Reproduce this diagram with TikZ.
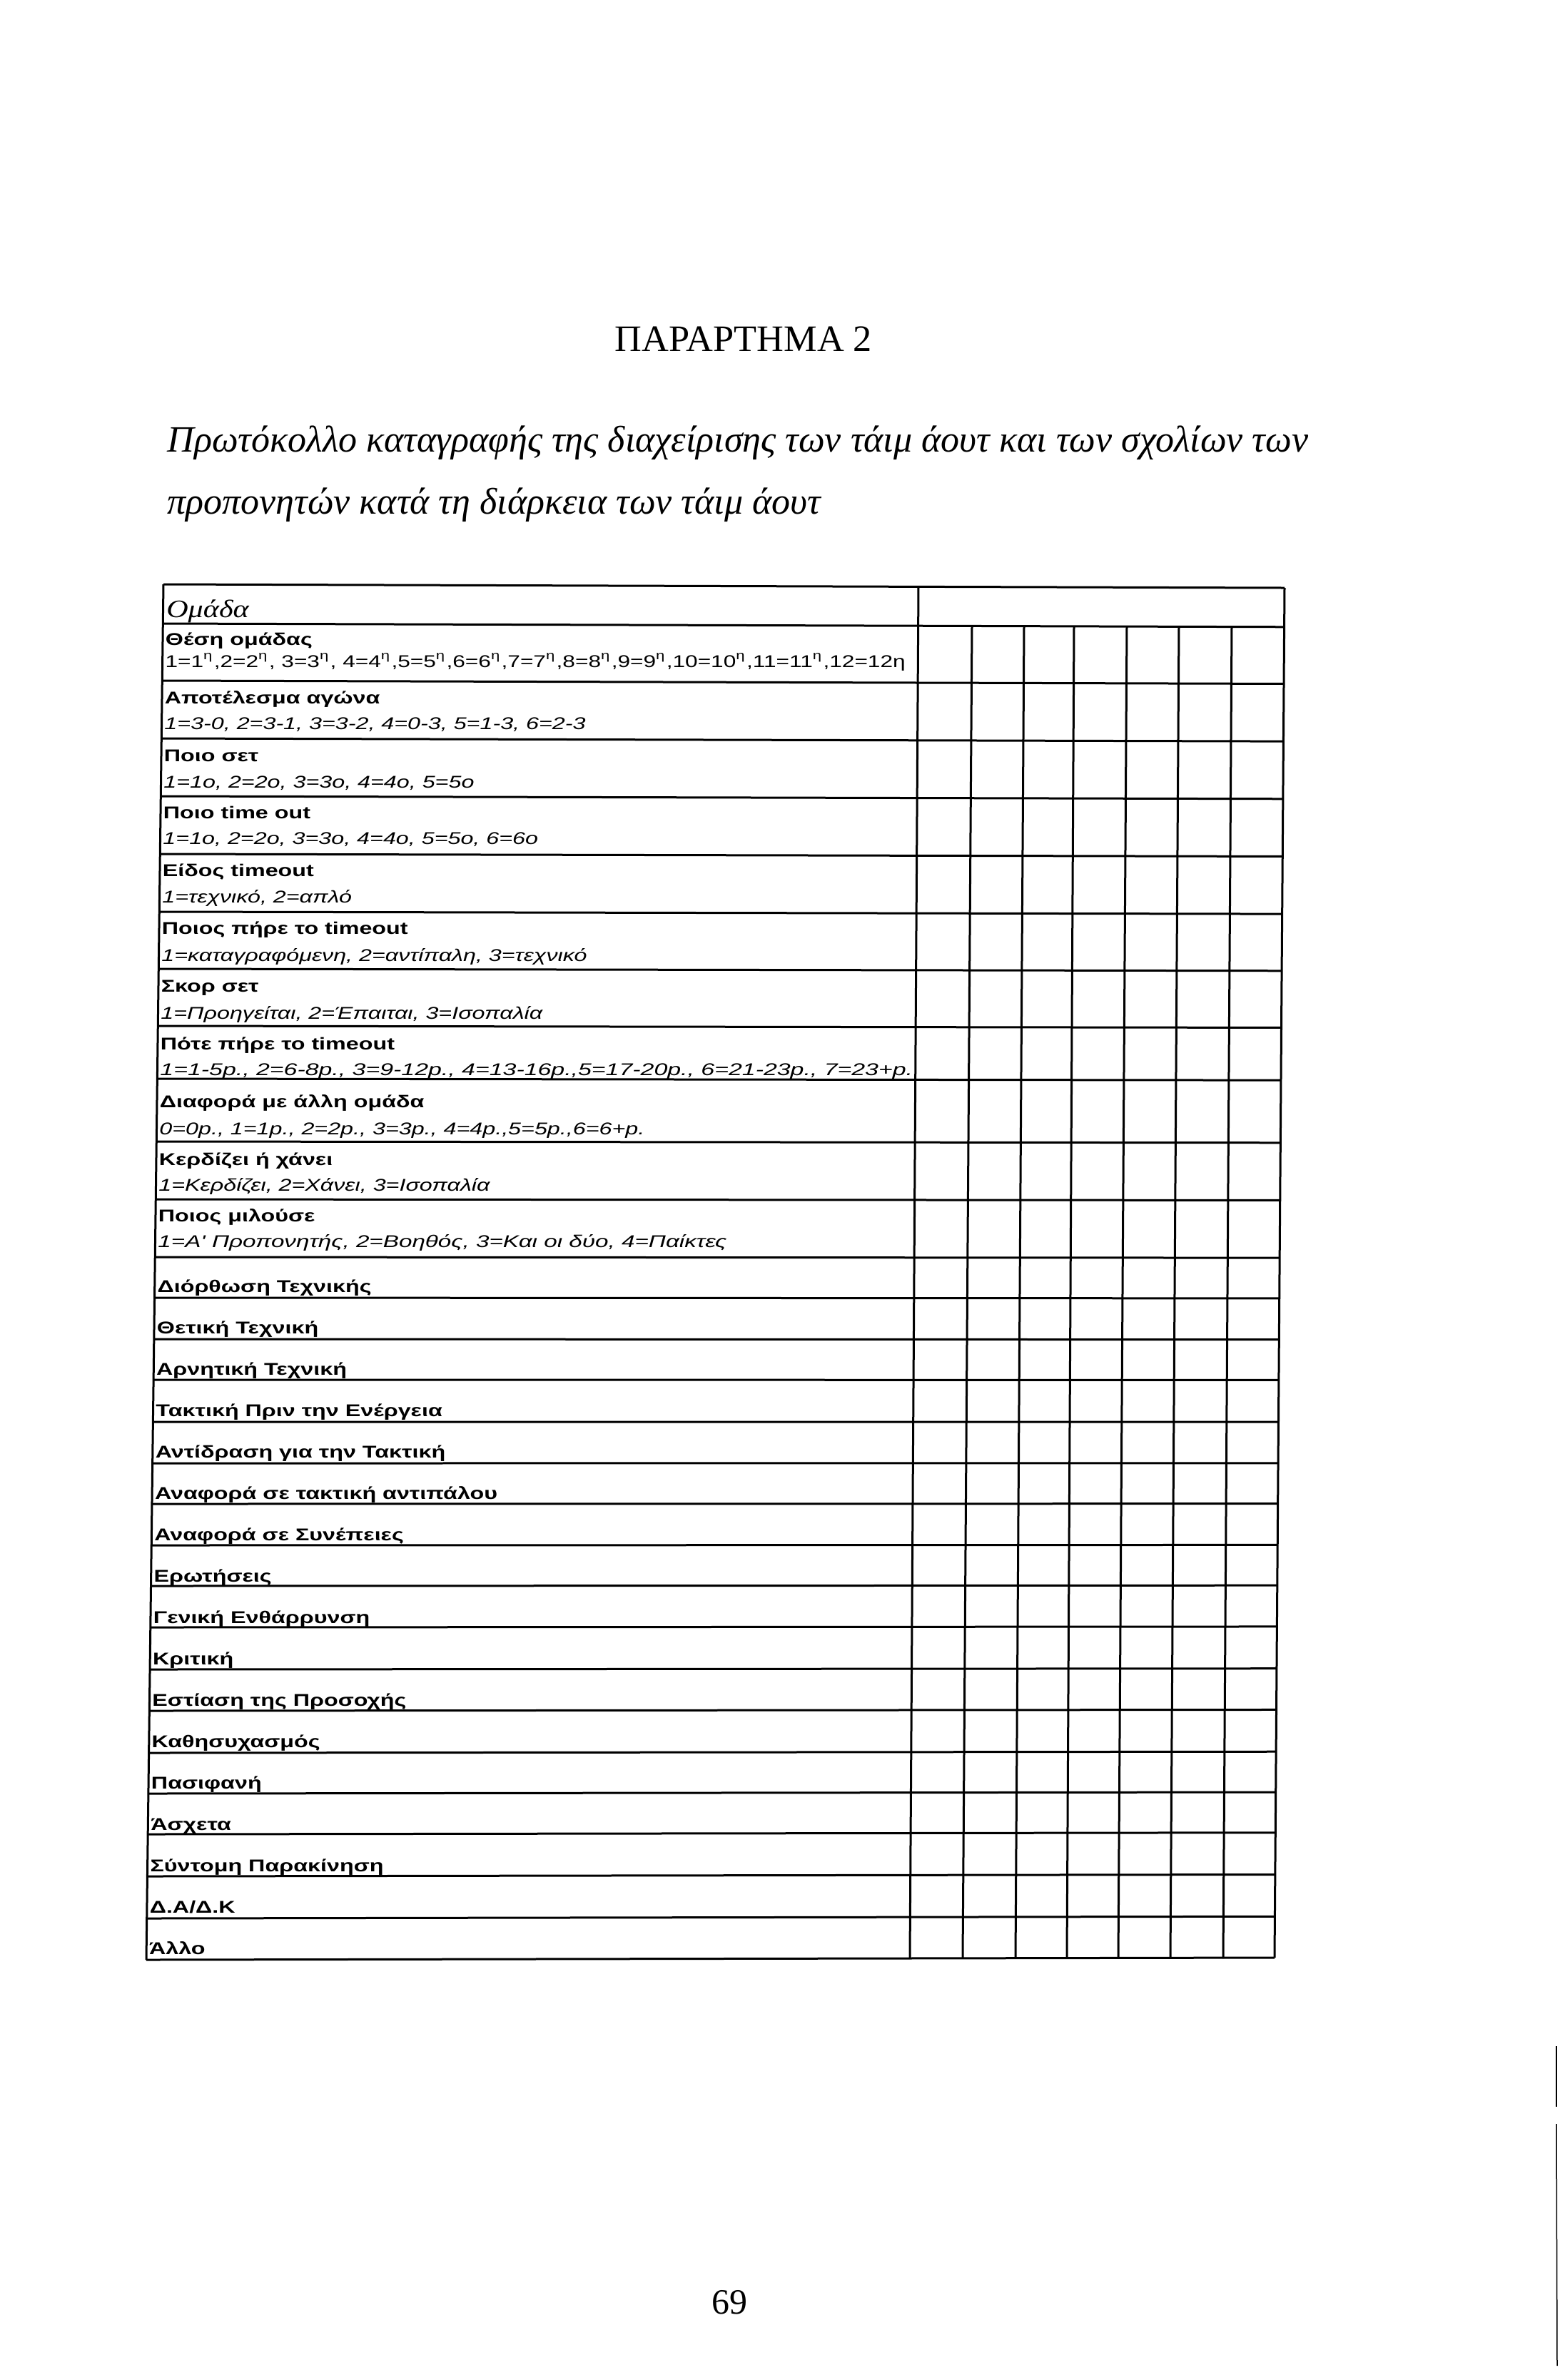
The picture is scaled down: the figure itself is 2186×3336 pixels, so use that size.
\documentclass[tikz,border=0pt]{standalone}
\usepackage{fontspec}
\setmainfont{Liberation Serif}
\newfontfamily\formfont{Liberation Sans}
\usetikzlibrary{calc}
% left edge of the scanned form drifts a little to the left going down
\pgfmathdeclarefunction{edge}{1}{\pgfmathparse{233-0.01245*(#1-819)}}
\newcommand{\ordeta}{\textsuperscript{η}}
\tikzset{
rule/.style={line width=0.3mm},
scanline/.style={line width=0.15mm},
cellhead/.style={anchor=base west,inner sep=0pt,outer sep=0pt,font=\formfont\bfseries\fontsize{6.8}{8}\selectfont,xscale=1.35,transform shape},
cellopt/.style={cellhead,font=\formfont\itshape\fontsize{6.8}{8}\selectfont},
cellplain/.style={cellhead,font=\formfont\fontsize{6.8}{8}\selectfont},
}

\begin{document}
\begin{tikzpicture}[x=0.1mm,y=-0.1mm]
\fill[white] (0,0) rectangle (2186,3336);
\useasboundingbox (0,0) rectangle (2186,3336);

\node[anchor=base,inner sep=0pt,font=\fontsize{14.9}{18}\selectfont] (title) at (1042,492) {ΠΑΡΑΡΤΗΜΑ 2};
\node[anchor=base west,inner sep=0pt,font=\itshape\fontsize{14.8}{18}\selectfont] (sub1) at (234,633)
{Πρωτόκολλο καταγραφής της διαχείρισης των τάιμ άουτ και των σχολίων των};
\node[anchor=base west,inner sep=0pt,font=\itshape\fontsize{14.8}{18}\selectfont] (sub2) at (234,720)
{προπονητών κατά τη διάρκεια των τάιμ άουτ};

% grid of the form
\foreach \y in {819,874,954,1035,1116,1197,1278,1358,1438,1512,1600,1681,1762,
  1819,1877,1934,1993,2051,2108,2166,2223,2281,2340,2398,2457,2514,2571,2630,2689,2747}
  \draw[rule] ({229-0.01245*(\y-819)},\y) -- ({1800-0.00726*(\y-819)},{\y+5-0.00415*(\y-819)});
\draw[rule] (229,819) -- (205,2747);
\draw[rule] (1800,824) -- (1786,2744);
\draw[rule] (1287,822) -- (1275,2745);
\foreach \xt/\xb in {1362/1349,1435/1423,1505/1495,1579/1567,1652/1640,1726/1714}
  \draw[rule] (\xt,878) -- (\xb,2745);

% coded rows
\node[anchor=base west,inner sep=0pt,font=\itshape\fontsize{10}{12}\selectfont,xscale=1.2,transform shape] (team) at ({edge(865)},865) {Ομάδα};

\node[cellhead] (pos) at ({edge(904)},904) {Θέση ομάδας};
\node[cellplain,xscale=0.98] (posv) at ({edge(935)},935)
{1=1\ordeta,2=2\ordeta, 3=3\ordeta, 4=4\ordeta,5=5\ordeta,6=6\ordeta,7=7\ordeta,8=8\ordeta,9=9\ordeta,10=10\ordeta,11=11\ordeta,12=12η};
\node[cellhead] (res) at ({edge(986)},986) {Αποτέλεσμα αγώνα};
\node[cellopt] (resv) at ({edge(1022)},1022) {1=3-0, 2=3-1, 3=3-2, 4=0-3, 5=1-3, 6=2-3};
\node[cellhead] (set) at ({edge(1067)},1067) {Ποιο σετ};
\node[cellopt] (setv) at ({edge(1104)},1104) {1=1ο, 2=2ο, 3=3ο, 4=4ο, 5=5ο};
\node[cellhead] (tout) at ({edge(1147)},1147) {Ποιο time out};
\node[cellopt] (toutv) at ({edge(1183)},1183) {1=1ο, 2=2ο, 3=3ο, 4=4ο, 5=5ο, 6=6ο};
\node[cellhead] (kind) at ({edge(1228)},1228) {Είδος timeout};
\node[cellopt] (kindv) at ({edge(1265)},1265) {1=τεχνικό, 2=απλό};
\node[cellhead] (who) at ({edge(1309)},1309) {Ποιος πήρε το timeout};
\node[cellopt] (whov) at ({edge(1347)},1347) {1=καταγραφόμενη, 2=αντίπαλη, 3=τεχνικό};
\node[cellhead] (score) at ({edge(1390)},1390) {Σκορ σετ};
\node[cellopt] (scorev) at ({edge(1428)},1428) {1=Προηγείται, 2=Έπαιται, 3=Ισοπαλία};
\node[cellhead] (when) at ({edge(1471)},1471) {Πότε πήρε το timeout};
\node[cellopt,xscale=1.05] (whenv) at ({edge(1507)},1507)
{1=1-5p., 2=6-8p., 3=9-12p., 4=13-16p.,5=17-20p., 6=21-23p., 7=23+p.};
\node[cellhead] (diff) at ({edge(1552)},1552) {Διαφορά με άλλη ομάδα};
\node[cellopt] (diffv) at ({edge(1590)},1590) {0=0p., 1=1p., 2=2p., 3=3p., 4=4p.,5=5p.,6=6+p.};
\node[cellhead] (win) at ({edge(1633)},1633) {Κερδίζει ή χάνει};
\node[cellopt] (winv) at ({edge(1669)},1669) {1=Κερδίζει, 2=Χάνει, 3=Ισοπαλία};
\node[cellhead] (talk) at ({edge(1712)},1712) {Ποιος μιλούσε};
\node[cellopt,xscale=1.03] (talkv) at ({edge(1748)},1748) {1=Α' Προπονητής, 2=Βοηθός, 3=Και οι δύο, 4=Παίκτες};

% comment categories
\foreach \t [count=\k] in {Διόρθωση Τεχνικής,Θετική Τεχνική,Αρνητική Τεχνική,Τακτική Πριν την Ενέργεια,
  Αντίδραση για την Τακτική,Αναφορά σε τακτική αντιπάλου,Αναφορά σε Συνέπειες,Ερωτήσεις,
  Γενική Ενθάρρυνση,Κριτική,Εστίαση της Προσοχής,Καθησυχασμός,Πασιφανή,Άσχετα,
  Σύντομη Παρακίνηση,Δ.Α/Δ.Κ,Άλλο}
  \node[cellhead] (item\k) at ({edge(1754+57.94*\k)},{1754+57.94*\k}) {\t};

\node[anchor=base,inner sep=0pt,font=\fontsize{14.2}{17}\selectfont] (pagenum) at (1022,3243) {69};

% stray scanner edge
\draw[scanline] (2181,2868) -- (2181,2953);
\draw[scanline] (2181,2977) -- (2182,3316);
\end{tikzpicture}
\end{document}
